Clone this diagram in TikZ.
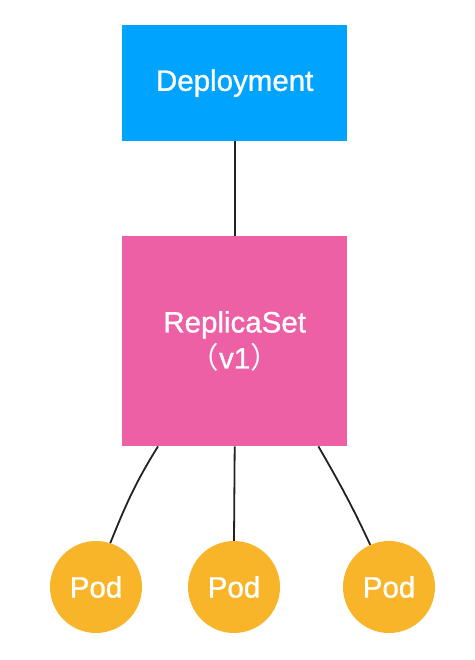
\documentclass[tikz,border=0pt]{standalone}
\usepackage{fontspec}
\setmainfont{Liberation Sans}
\newfontfamily\lblfont{Liberation Sans}[FakeBold=0.9]
\newfontfamily\cjk{Noto Sans CJK SC}
\definecolor{depblue}{RGB}{0,164,255}
\definecolor{rspink}{RGB}{238,96,165}
\definecolor{podorange}{RGB}{249,181,42}
\definecolor{linegray}{RGB}{34,34,34}
\tikzset{
  lbl/.style={text=white,font=\lblfont\fontsize{29.5}{36}\selectfont},
  boxnode/.style={lbl,inner sep=0pt,anchor=north west},
  podnode/.style={lbl,circle,fill=podorange,minimum size=92pt,inner sep=0pt},
  conn/.style={draw=linegray,line width=1.8pt}
}
\begin{document}
\begin{tikzpicture}[x=1pt,y=-1pt]
\useasboundingbox (0,0) rectangle (474,660);
\node[boxnode,fill=depblue,minimum width=225pt,minimum height=116pt] (dep) at (122,25) {Deployment};
\node[boxnode,fill=rspink,minimum width=225pt,minimum height=210pt,align=center] (rs) at (122,236) {ReplicaSet\\{\cjk （}v1{\cjk ）}};
\node[podnode] (p1) at (96,587) {Pod};
\node[podnode] (p2) at (234,587) {Pod};
\node[podnode] (p3) at (389,587) {Pod};
\draw[conn] (dep.south) -- (rs.north);
\draw[conn] ([xshift=36pt]rs.south west) to[out=238,in=68] (p1.72);
\draw[conn] (rs.south) -- (p2.north);
\draw[conn] ([xshift=-29pt]rs.south east) to[out=300,in=115] (p3.114);
\end{tikzpicture}
\end{document}
